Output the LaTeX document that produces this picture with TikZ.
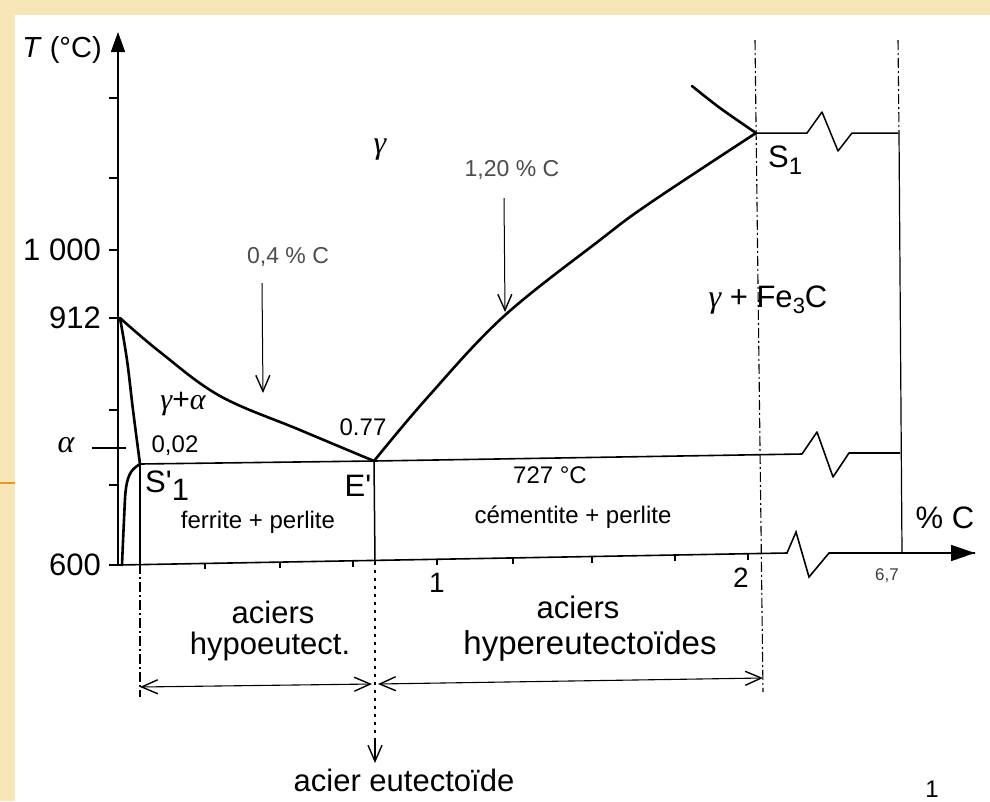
\documentclass[tikz,border=0pt]{standalone}
\usepackage{fontspec}
\setmainfont{Liberation Sans}
\newfontfamily\grk{Liberation Serif}
\newcommand{\gm}{{\grk\itshape γ}}
\newcommand{\al}{{\grk\itshape α}}
\usetikzlibrary{arrows.meta}
\definecolor{cream}{RGB}{246,230,184}
\definecolor{orangeline}{RGB}{236,150,40}
\begin{document}
\begin{tikzpicture}[x=1pt,y=-1pt,
  thickcurve/.style={line width=2.6pt, line join=round, line cap=round},
  axisline/.style={line width=1.6pt},
  thinline/.style={line width=1.2pt, line join=round},
  dashdotline/.style={line width=1.1pt, dash pattern=on 10pt off 3pt on 2pt off 3pt},
  dottedline/.style={line width=1.1pt, dash pattern=on 3pt off 5pt},
  lab/.style={inner sep=0pt, font=\fontsize{31}{31}\selectfont},
  midlab/.style={inner sep=0pt, font=\fontsize{24}{24}\selectfont},
  lightlab/.style={inner sep=0pt, font=\fontsize{23}{23}\selectfont, text=black!70},
  barbhead/.style={-{Straight Barb[length=16pt,width=14pt,line width=1.4pt]}},
  dblbarb/.style={{Straight Barb[length=16pt,width=14pt,line width=1.4pt]}-{Straight Barb[length=16pt,width=14pt,line width=1.4pt]}},
]
\useasboundingbox (0,0) rectangle (990,801);
\fill[cream] (0,0) rectangle (990,801);
\fill[white] (15,15) rectangle (990,801);
\draw[orangeline, line width=2pt] (0,483) -- (15,483);

% key coordinates
\coordinate (O) at (118,565);
\coordinate (Ttop) at (118,32);
\coordinate (A912) at (120,318);
\coordinate (S1p) at (140,464);
\coordinate (E) at (374,461);
\coordinate (S1) at (756,133);

% temperature axis
\draw[axisline, -{Triangle[length=20pt,width=14pt]}] (O) -- (Ttop);
\foreach \yy in {98,178,250,318,410,485,565} \draw[axisline] (109,\yy) -- (118,\yy);
\draw[thinline] (92,448) -- (126,448);

% composition axis with break
\coordinate (Xb1) at (787,553);
\coordinate (Xz1) at (796,532);
\coordinate (Xz2) at (809,577);
\coordinate (Xb2) at (829,553);
\coordinate (Xend) at (975,553);
\draw[axisline] (O) -- (Xb1) -- (Xz1) -- (Xz2) -- (Xb2) -- (Xend);
\draw[axisline, -{Triangle[length=24pt,width=16pt]}] (Xb2) -- (Xend);
\foreach \xx/\yy in {205/563.4,280/562,353/561,437/559,513/558,592/556.5,675/555,748/553.7}
  \draw[thinline] (\xx,\yy) -- (\xx,\yy+6);

% eutectoid line with break
\draw[thinline, line width=1.6pt] (S1p) -- (E) -- (802,454) -- (817,432) -- (833,477) -- (849,453) -- (900,453);

% S1 horizontal with break
\draw[thinline, line width=1.5pt] (S1) -- (807,133) -- (822,112) -- (838,151) -- (852,133) -- (898,133);

% verticals
\draw[thinline, line width=1.5pt] (S1p) -- (140,564);
\draw[dashdotline] (140,564) -- (140,697);
\draw[thinline, line width=1.5pt] (E) -- (375,562);
\draw[dottedline] (375,562) -- (375,745);
\draw[barbhead, line width=1.1pt] (375,740) -- (375,763);
\draw[dashdotline] (755,40) -- (763,692);
\draw[dashdotline] (898,40) -- (899,133);
\draw[thinline] (899,133) -- (902,553);

% phase boundaries
\draw[thickcurve] plot[smooth, tension=0.6] coordinates {(120,318) (127,360) (133,410) (140,464)};
\draw[thickcurve] plot[smooth, tension=0.6] coordinates {(140,464) (131,472) (126,488) (124,520) (122,565)};
\draw[thickcurve] plot[smooth, tension=0.6] coordinates {(120,318) (160,352) (220,396) (300,430) (374,461)};
\draw[thickcurve] plot[smooth, tension=0.6] coordinates {(374,461) (427,398) (503,317) (600,240) (650,203) (756,133)};
\draw[thickcurve] plot[smooth, tension=0.6] coordinates {(756,133) (720,108) (692,86)};

% composition arrows
\draw[barbhead, line width=1pt] (262,283) -- (263,393);
\draw[barbhead, line width=1pt] (504,198) -- (505,312);

% steel class arrows
\draw[dblbarb, line width=1.1pt] (140,687) -- (372,684);
\draw[dblbarb, line width=1.1pt] (378,684) -- (763,678);

% labels
\node[lab, font=\fontsize{29}{29}\selectfont] (lT) at (62,50) {\textit{T} (°C)};
\node[lab, anchor=east] (l1000) at (101,250) {1 000};
\node[lab, anchor=east] (l912) at (101,318) {912};
\node[lab, font=\fontsize{32}{32}\selectfont] (lalpha) at (66,445) {\al};
\node[lab, anchor=east] (l600) at (101,565) {600};
\node[lab, font=\fontsize{32}{32}\selectfont] (lgamma) at (380,150) {\gm};
\node[lightlab] (l04) at (288,257) {0,4 \% C};
\node[lightlab] (l120) at (512,170) {1,20 \% C};
\node[lab, font=\fontsize{30}{30}\selectfont] (lga) at (183,404) {\gm+\al};
\node[midlab] (l002) at (175,446) {0,02};
\node[midlab] (l077) at (363,427) {0.77};
\node[lab, anchor=west] (lS1p) at (145,486) {S\textquotesingle\raisebox{-0.5ex}{1}};
\node[lab] (lEp) at (358,486) {E\textquotesingle};
\node[midlab] (lfp) at (258,522) {ferrite + perlite};
\node[midlab] (l727) at (550,475) {727 °C};
\node[midlab] (lcp) at (573,517) {cémentite + perlite};
\node[lab, anchor=west] (lS1) at (768,160) {S\raisebox{-0.45ex}{\fontsize{24}{24}\selectfont 1}};
\node[lab] (lgf) at (768,300) {{\fontsize{32}{32}\selectfont\gm} + Fe\raisebox{-0.4ex}{\fontsize{22}{22}\selectfont 3}C};
\node[lab] (lpc) at (945,518) {\% C};
\node[inner sep=0pt, font=\fontsize{17}{17}\selectfont, text=black!75] (l67) at (887,576) {6,7};
\node[lab, font=\fontsize{28}{28}\selectfont] (lx1) at (437,583) {1};
\node[lab, font=\fontsize{28}{28}\selectfont] (lx2) at (741,578) {2};
\node[lab] (lac1) at (273,612) {aciers};
\node[lab] (lhypo) at (270,646) {hypoeutect.};
\node[lab] (lac2) at (578,607) {aciers};
\node[lab, font=\fontsize{33}{33}\selectfont] (lhyper) at (590,646) {hypereutectoïdes};
\node[lab] (leut) at (404,780) {acier eutectoïde};
\node[lab, font=\fontsize{24}{24}\selectfont] (lpage) at (932,789) {1};
\end{tikzpicture}
\end{document}
